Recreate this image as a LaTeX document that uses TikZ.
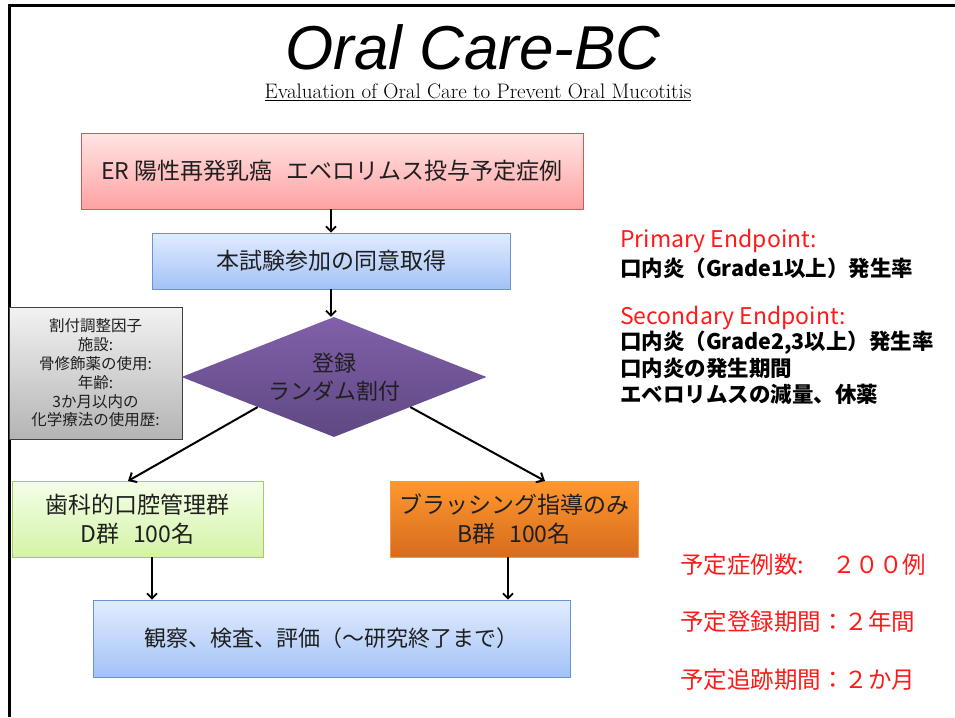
\documentclass[tikz,border=0pt]{standalone}
\usepackage{fontspec}
\newfontfamily\jp{Noto Sans CJK JP}
\newfontfamily\ttl{Liberation Sans}
\usetikzlibrary{shapes.geometric,arrows.meta}
\definecolor{redtop}{HTML}{FFE4E4}
\definecolor{redbot}{HTML}{FFA2A2}
\definecolor{redline}{HTML}{CC5A58}
\definecolor{bluetop}{HTML}{E2ECFF}
\definecolor{bluebot}{HTML}{A2C2F6}
\definecolor{blueline}{HTML}{6A94D0}
\definecolor{purtop}{HTML}{8160AA}
\definecolor{purbot}{HTML}{5E4882}
\definecolor{greytop}{HTML}{F2F2F2}
\definecolor{greybot}{HTML}{B4B4B4}
\definecolor{greentop}{HTML}{F3FFE8}
\definecolor{greenbot}{HTML}{D4F3A6}
\definecolor{greenline}{HTML}{A6C96A}
\definecolor{orgtop}{HTML}{FF982E}
\definecolor{orgbot}{HTML}{D66C1E}
\definecolor{orgline}{HTML}{F79646}
\definecolor{txtred}{HTML}{FF1A1A}
\begin{document}
\begin{tikzpicture}[x=1pt,y=-1pt,
  boxa/.style={draw, line width=0.9pt, inner sep=0pt, align=center,
    font=\jp\fontsize{23}{29}\selectfont, text=black!88},
  arr/.style={draw=black, line width=1.8pt, -{Straight Barb[length=5pt,width=10pt,line width=1.8pt]}},
  diag/.style={draw=black, line width=2pt, -{Straight Barb[length=6pt,width=11pt,line width=2pt]}},
  sidetxt/.style={anchor=west, inner sep=0pt, font=\jp\bfseries\fontsize{21.5}{26}\selectfont},
  redhead/.style={anchor=west, inner sep=0pt, text=txtred, font=\jp\fontsize{23}{26}\selectfont},
  plantxt/.style={anchor=west, inner sep=0pt, text=txtred, font=\jp\fontsize{23.5}{28}\selectfont}]
\useasboundingbox (0,0) rectangle (955,717);
\fill[white] (0,0) rectangle (955,717);
\draw[line width=3pt] (955,6) -- (9,6) -- (9,717);

% title
\node[inner sep=0pt, font=\ttl\itshape\fontsize{62}{63}\selectfont] (title) at (473,47) {Oral Care-BC};
\node[inner sep=0pt, font=\fontsize{21}{22}\selectfont] (sub) at (478,92) {\underline{Evaluation of Oral Care to Prevent Oral Mucotitis}};

% boxes
\node[boxa, draw=redline, top color=redtop, bottom color=redbot,
  minimum width=502pt, minimum height=76pt] (er) at (332,171)
  {ER 陽性再発乳癌\hspace{0.6em}エベロリムス投与予定症例};
\node[boxa, draw=blueline, top color=bluetop, bottom color=bluebot,
  minimum width=358pt, minimum height=56pt] (ic) at (331,261)
  {本試験参加の同意取得};
\node[boxa, draw=black!75, top color=greytop, bottom color=greybot,
  minimum width=173pt, minimum height=132pt, font=\jp\fontsize{15.5}{18.8}\selectfont] (fac) at (95.5,373)
  {割付調整因子\\施設:\\骨修飾薬の使用:\\年齢:\\3か月以内の\\化学療法の使用歴:};
\node[diamond, draw=none, top color=purtop, bottom color=purbot, inner sep=0pt,
  minimum width=305pt, minimum height=120pt, aspect=2.54,
  font=\jp\fontsize{22}{28}\selectfont, align=center, text=black!88] (rand) at (334,377)
  {登録\\ランダム割付};
\node[boxa, draw=greenline, top color=greentop, bottom color=greenbot,
  minimum width=251pt, minimum height=76pt] (dg) at (137.5,519)
  {歯科的口腔管理群\\D群\hspace{0.6em}100名};
\node[boxa, draw=orgline, top color=orgtop, bottom color=orgbot,
  minimum width=248pt, minimum height=76pt] (bg) at (514,519)
  {ブラッシング指導のみ\\B群\hspace{0.6em}100名};
\node[boxa, draw=blueline, top color=bluetop, bottom color=bluebot,
  minimum width=477pt, minimum height=77pt, font=\jp\fontsize{22}{28}\selectfont] (obs) at (331.5,638.5)
  {観察、検査、評価（～研究終了まで）};

% connectors
\coordinate (dgin) at (128,481);
\coordinate (bgin) at (545,481);
\coordinate (dgx) at (152,0);
\coordinate (bgx) at (508,0);
\draw[arr] (er.south -| ic.north) -- (ic.north);
\draw[arr] (ic.south) -- (rand.north -| ic.south);
\draw[diag] (rand.south west) -- (dgin);
\draw[diag] (rand.south east) -- (bgin);
\draw[arr] (dg.south -| dgx) -- (obs.north -| dgx);
\draw[arr] (bg.south -| bgx) -- (obs.north -| bgx);

% endpoints
\node[redhead] (pe) at (620,241) {Primary Endpoint:};
\node[sidetxt] (pe1) at (620,268) {口内炎（Grade1以上）発生率};
\node[redhead] (se) at (620,318) {Secondary Endpoint:};
\node[sidetxt] (se1) at (620,343) {口内炎（Grade2,3以上）発生率};
\node[sidetxt] (se2) at (620,368) {口内炎の発生期間};
\node[sidetxt] (se3) at (620,394) {エベロリムスの減量、休薬};

% plan
\node[plantxt] (n1) at (680,565) {予定症例数:\hspace{1.2em}２００例};
\node[plantxt] (n2) at (680,622) {予定登録期間：２年間};
\node[plantxt] (n3) at (680,680) {予定追跡期間：２か月};
\end{tikzpicture}
\end{document}
